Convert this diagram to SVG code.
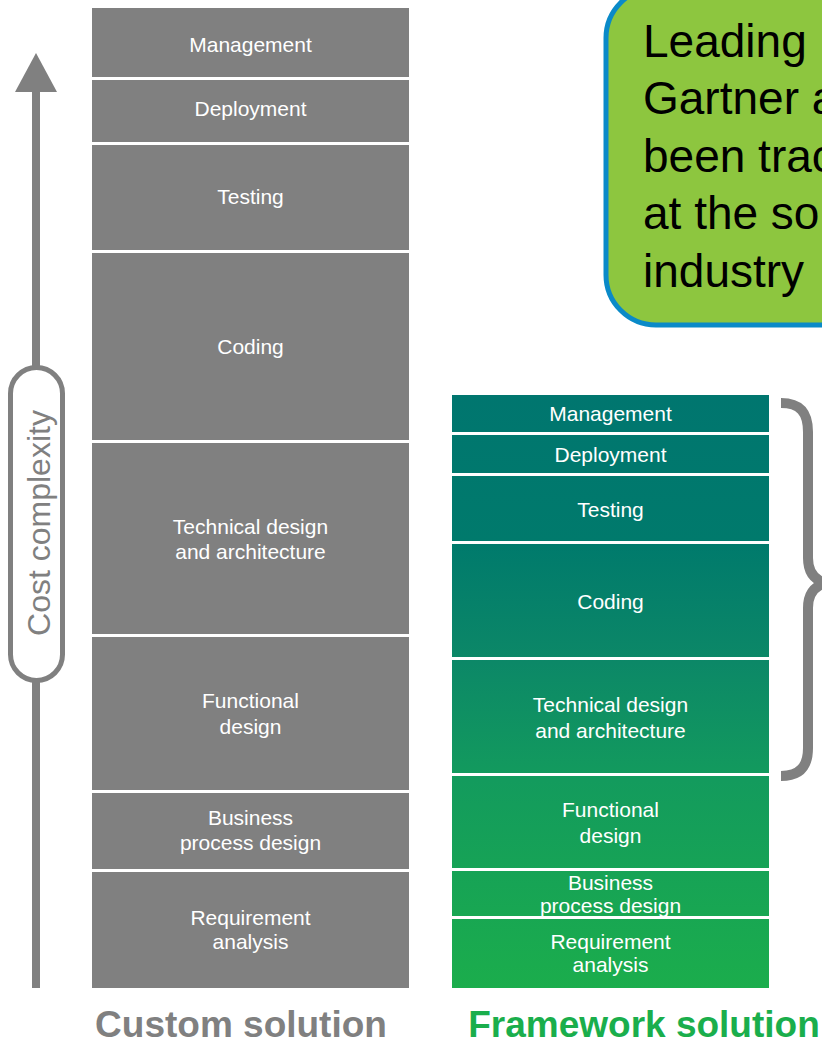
<svg xmlns="http://www.w3.org/2000/svg" width="822" height="1043" viewBox="0 0 822 1043">
<defs>
<linearGradient id="fw" gradientUnits="userSpaceOnUse" x1="0" y1="395" x2="0" y2="988">
<stop offset="0" stop-color="#00766F"/>
<stop offset="0.25" stop-color="#007A6C"/>
<stop offset="0.45" stop-color="#0C8867"/>
<stop offset="0.65" stop-color="#139B5D"/>
<stop offset="1" stop-color="#1BAD4C"/>
</linearGradient>
</defs>
<style>
.cbox{fill:#808080;}
.fbox{fill:url(#fw);}
.lbl{font-family:"Liberation Sans",Arial,sans-serif;font-size:21px;fill:#FFFFFF;text-anchor:middle;}
.title{font-family:"Liberation Sans",Arial,sans-serif;font-size:37px;font-weight:bold;text-anchor:middle;}
.callout{font-family:"Liberation Sans",Arial,sans-serif;font-size:46px;fill:#000000;}
</style>
<rect width="822" height="1043" fill="#FFFFFF"/>

<g id="callout">
<rect x="606" y="-12" width="290" height="337" rx="50" ry="50" fill="#8DC63F" stroke="#0A8AC8" stroke-width="5"/>
<text class="callout" x="643" y="57">Leading</text>
<text class="callout" x="643" y="114">Gartner a</text>
<text class="callout" x="643" y="172">been trac</text>
<text class="callout" x="643" y="229">at the so</text>
<text class="callout" x="643" y="287">industry</text>
</g>

<g id="connectors">
<line x1="36" y1="88" x2="36" y2="988" stroke="#808080" stroke-width="8"/>
<polygon points="36,53 15,92 57,92" fill="#808080"/>
<path d="M 781 403 C 800 403 808 412 808 432 L 808 558 C 808 572 814 580 826 583 C 814 586 808 594 808 608 L 808 748 C 808 766 800 776 781 776" fill="none" stroke="#808080" stroke-width="10"/>
</g>

<g id="axis-label">
<rect x="10.5" y="367.5" width="52" height="313" rx="26" ry="26" fill="#FFFFFF" stroke="#808080" stroke-width="5"/>
<text x="50" y="523" transform="rotate(-90 50 523)" font-family="Liberation Sans, Arial, sans-serif" font-size="32" fill="#808080" text-anchor="middle">Cost complexity</text>
</g>

<g id="custom-management"><rect class="cbox" x="92" y="8" width="317" height="69"/><text class="lbl" x="250.5" y="52">Management</text></g>
<g id="custom-deployment"><rect class="cbox" x="92" y="80" width="317" height="62"/><text class="lbl" x="250.5" y="116">Deployment</text></g>
<g id="custom-testing"><rect class="cbox" x="92" y="145" width="317" height="105"/><text class="lbl" x="250.5" y="204">Testing</text></g>
<g id="custom-coding"><rect class="cbox" x="92" y="253" width="317" height="187"/><text class="lbl" x="250.5" y="354">Coding</text></g>
<g id="custom-technical"><rect class="cbox" x="92" y="443" width="317" height="191"/><text class="lbl" x="250.5" y="534">Technical design</text><text class="lbl" x="250.5" y="559">and architecture</text></g>
<g id="custom-functional"><rect class="cbox" x="92" y="637" width="317" height="153"/><text class="lbl" x="250.5" y="708">Functional</text><text class="lbl" x="250.5" y="734">design</text></g>
<g id="custom-business"><rect class="cbox" x="92" y="793" width="317" height="76"/><text class="lbl" x="250.5" y="825">Business</text><text class="lbl" x="250.5" y="850">process design</text></g>
<g id="custom-requirement"><rect class="cbox" x="92" y="872" width="317" height="116"/><text class="lbl" x="250.5" y="925">Requirement</text><text class="lbl" x="250.5" y="949">analysis</text></g>

<g id="fw-management"><rect class="fbox" x="452" y="395" width="317" height="37"/><text class="lbl" x="610.5" y="421">Management</text></g>
<g id="fw-deployment"><rect class="fbox" x="452" y="435" width="317" height="38"/><text class="lbl" x="610.5" y="462">Deployment</text></g>
<g id="fw-testing"><rect class="fbox" x="452" y="476" width="317" height="65"/><text class="lbl" x="610.5" y="517">Testing</text></g>
<g id="fw-coding"><rect class="fbox" x="452" y="544" width="317" height="113"/><text class="lbl" x="610.5" y="609">Coding</text></g>
<g id="fw-technical"><rect class="fbox" x="452" y="660" width="317" height="113"/><text class="lbl" x="610.5" y="712">Technical design</text><text class="lbl" x="610.5" y="738">and architecture</text></g>
<g id="fw-functional"><rect class="fbox" x="452" y="776" width="317" height="92"/><text class="lbl" x="610.5" y="817">Functional</text><text class="lbl" x="610.5" y="843">design</text></g>
<g id="fw-business"><rect class="fbox" x="452" y="871" width="317" height="45"/><text class="lbl" x="610.5" y="890">Business</text><text class="lbl" x="610.5" y="913">process design</text></g>
<g id="fw-requirement"><rect class="fbox" x="452" y="919" width="317" height="69"/><text class="lbl" x="610.5" y="949">Requirement</text><text class="lbl" x="610.5" y="972">analysis</text></g>

<g id="titles">
<text class="title" x="241" y="1037" fill="#808080">Custom solution</text>
<text class="title" x="644" y="1037" fill="#1AAE4C">Framework solution</text>
</g>
</svg>
